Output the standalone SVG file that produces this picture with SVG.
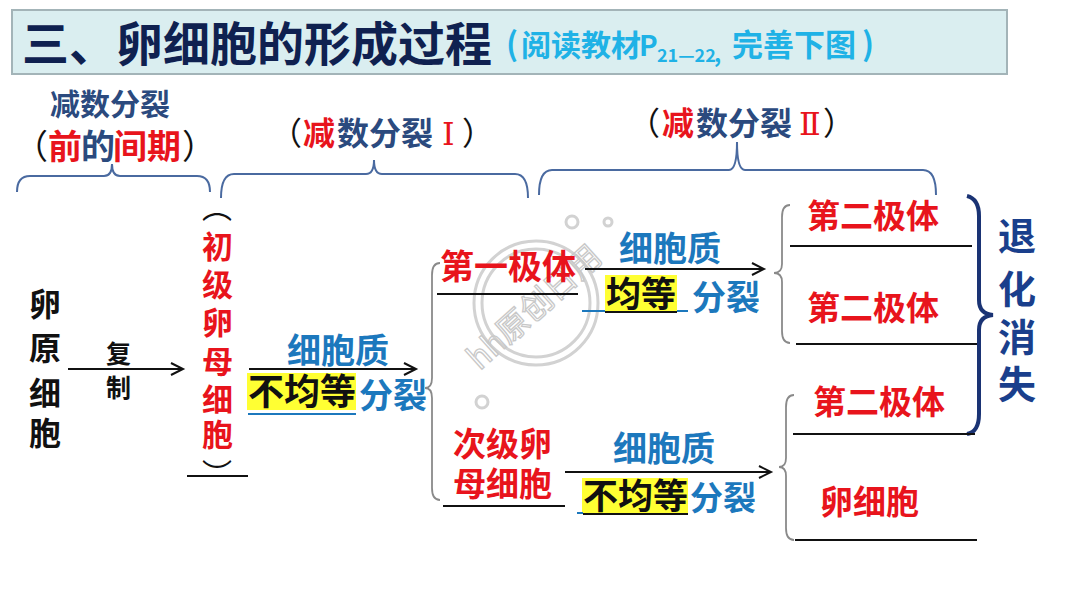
<svg xmlns="http://www.w3.org/2000/svg" width="1080" height="608" viewBox="0 0 1080 608">
<defs>
<style>
text{font-family:"Noto Sans CJK SC","Noto Sans",sans-serif;font-weight:700}
.red{fill:#e8141c}
.navy{fill:#2b4a7e}
.blue{fill:#1c78bd}
.blk{fill:#111}
.roman{font-family:"DejaVu Serif","Liberation Serif",serif;font-weight:400;fill:#e8141c}
.par{font-weight:400;fill:#111}
.ln{stroke:#111;stroke-width:2;fill:none}
.bl{stroke:#1c78bd;stroke-width:2;fill:none}
.brace{stroke:#4a6aa0;stroke-width:2;fill:none}
.gbrace{stroke:#8a8a8a;stroke-width:1.8;fill:none}
.hl{fill:#ffff33}
.wm{stroke:#d2d2d2;fill:none;stroke-width:3}
</style>
<marker id="arr" markerUnits="userSpaceOnUse" markerWidth="16" markerHeight="16" refX="13" refY="7" orient="auto">
<path d="M1,1 L13,7 L1,13" stroke="#111" stroke-width="2" fill="none"/>
</marker>
</defs>
<rect width="1080" height="608" fill="#fff"/>

<g id="watermark">
<circle class="wm" cx="536" cy="303" r="62"/>
<circle class="wm" cx="536" cy="303" r="54"/>
<circle class="wm" cx="572" cy="222" r="6" stroke-width="2"/>
<circle class="wm" cx="608" cy="222" r="4" stroke-width="2"/>
<circle class="wm" cx="482" cy="402" r="6" stroke-width="2"/>
<text x="535" y="318" transform="rotate(-42 535 308)" text-anchor="middle" font-size="32" style="font-weight:400;fill:none;stroke:#c8c8c8;stroke-width:1.3">hh原创日用</text>
</g>

<g id="title">
<rect x="12" y="10" width="995" height="64" fill="#daeef0" stroke="#a3b4b8" stroke-width="2"/>
<text x="22" y="61" font-size="47" fill="#0f2150">三、卵细胞的形成过程</text>
<text y="56" font-size="30" fill="#1fb2e6"><tspan x="506" font-size="32">(</tspan><tspan x="521">阅读教材</tspan><tspan x="639" font-size="28">P</tspan><tspan x="657" y="62" font-size="18">21—22</tspan><tspan x="714" y="62" font-size="22">,</tspan><tspan x="732" y="56" font-size="31">完善下图</tspan><tspan x="862" font-size="32">)</tspan></text>
</g>

<g id="phase-interphase">
<text x="50" y="115" font-size="30" class="navy">减数分裂</text>
<text y="159" font-size="34"><tspan x="14" class="blk" style="font-weight:400">（</tspan><tspan x="48" class="red">前</tspan><tspan x="81" class="navy">的</tspan><tspan x="113" class="red">间期</tspan><tspan x="182" class="blk" style="font-weight:400">）</tspan></text>
</g>
<g id="phase-meiosis1">
<text y="145" font-size="32"><tspan x="270" class="blk" style="font-weight:400">（</tspan><tspan x="303" class="red">减</tspan><tspan x="337" class="navy">数分裂</tspan><tspan x="442" class="roman">Ⅰ</tspan><tspan x="462" class="blk" style="font-weight:400">）</tspan></text>
</g>
<g id="phase-meiosis2">
<text y="135" font-size="32"><tspan x="628" class="blk" style="font-weight:400">（</tspan><tspan x="662" class="red">减</tspan><tspan x="696" class="navy">数分裂</tspan><tspan x="799" class="roman">Ⅱ</tspan><tspan x="823" class="blk" style="font-weight:400">）</tspan></text>
</g>

<g id="braces">
<path class="brace" d="M17,192 Q17,176 30,176 L104,176 Q112,176 112,164 Q112,176 120,176 L197,176 Q210,176 210,192"/>
<path class="brace" d="M221,198 Q221,174 234,174 L366,174 Q374,174 374,160 Q374,174 382,174 L515,174 Q528,174 528,198"/>
<path class="brace" d="M539,195 Q539,170 552,170 L729,170 Q737,170 737,142 Q737,170 745,170 L923,170 Q936,170 936,195"/>
<path class="gbrace" d="M440,263 Q432,263 432,275 L432,378 Q432,388 425,388 Q432,388 432,398 L432,488 Q432,500 440,500"/>
<path class="gbrace" d="M790,205 Q782,205 782,217 L782,264 Q782,273 774,273 Q782,273 782,282 L782,331 Q782,343 790,343"/>
<path class="gbrace" d="M794,395 Q786,395 786,407 L786,458 Q786,467 779,467 Q786,467 786,476 L786,528 Q786,540 794,540"/>
<path d="M967,196 Q979,199 979,216 L979,300 Q979,314 993,315 Q979,316 979,330 L979,414 Q979,432 967,434" stroke="#1a3374" stroke-width="4" fill="none"/>
</g>

<g id="connectors">
<line class="ln" x1="68" y1="369" x2="183" y2="369" marker-end="url(#arr)"/>
<line class="ln" x1="249" y1="369" x2="416" y2="369" marker-end="url(#arr)"/>
<line class="ln" x1="585" y1="269" x2="764" y2="269" marker-end="url(#arr)"/>
<line class="ln" x1="565" y1="472" x2="771" y2="472" marker-end="url(#arr)"/>
</g>

<g id="node-oogonium">
<text font-size="32" class="blk" x="29"><tspan x="29" y="316">卵</tspan><tspan x="29" y="360">原</tspan><tspan x="29" y="405">细</tspan><tspan x="29" y="445">胞</tspan></text>
<text x="106" y="363" font-size="25" class="blk">复</text>
<text x="106" y="397" font-size="25" class="blk">制</text>
</g>

<g id="node-primary-oocyte">
<text class="par" x="217" y="218" font-size="30" text-anchor="middle">︵</text>
<text font-size="31" class="red"><tspan x="202" y="258">初</tspan><tspan x="202" y="296">级</tspan><tspan x="202" y="334">卵</tspan><tspan x="202" y="373">母</tspan><tspan x="202" y="411">细</tspan><tspan x="202" y="446">胞</tspan></text>
<text class="par" x="217" y="485" font-size="30" text-anchor="middle">︶</text>
<line class="ln" x1="187" y1="476" x2="248" y2="476"/>
</g>

<g id="label-meiosis1-division">
<text x="287" y="363" font-size="34" class="blue">细胞质</text>
<rect class="hl" x="247" y="373" width="109" height="37"/>
<text x="248" y="405" font-size="36" class="blk">不均等</text>
<line class="bl" x1="248" y1="414" x2="356" y2="414"/>
<text x="359" y="408" font-size="34" class="blue">分裂</text>
</g>

<g id="node-first-polar-body">
<text x="440" y="279" font-size="34" class="red">第一极体</text>
<line class="ln" x1="437" y1="294" x2="578" y2="294"/>
<text x="619" y="261" font-size="34" class="blue">细胞质</text>
<rect class="hl" x="605" y="275" width="72" height="37"/>
<text x="606" y="307" font-size="35" class="blk">均等</text>
<line class="bl" x1="582" y1="311" x2="605" y2="311"/>
<line class="ln" x1="605" y1="312" x2="677" y2="312"/>
<line class="bl" x1="677" y1="311" x2="688" y2="311"/>
<text x="692" y="310" font-size="34" class="blue">分裂</text>
</g>

<g id="node-secondary-oocyte">
<text x="453" y="456" font-size="33" class="red">次级卵</text>
<text x="453" y="496" font-size="33" class="red">母细胞</text>
<line class="ln" x1="443" y1="506" x2="565" y2="506"/>
<text x="613" y="461" font-size="34" class="blue">细胞质</text>
<rect class="hl" x="582" y="478" width="106" height="35"/>
<text x="583" y="509" font-size="35" class="blk">不均等</text>
<line class="bl" x1="577" y1="513" x2="583" y2="513"/>
<line class="ln" x1="583" y1="514" x2="688" y2="514"/>
<text x="690" y="510" font-size="33" class="blue">分裂</text>
</g>

<g id="node-second-polar-body-1">
<text x="807" y="228" font-size="33" class="red">第二极体</text>
<line class="ln" x1="790" y1="246" x2="972" y2="246"/>
</g>
<g id="node-second-polar-body-2">
<text x="807" y="320" font-size="33" class="red">第二极体</text>
<line class="ln" x1="796" y1="344" x2="977" y2="344"/>
</g>
<g id="node-second-polar-body-3">
<text x="813" y="414" font-size="33" class="red">第二极体</text>
<line class="ln" x1="793" y1="434" x2="975" y2="434"/>
</g>
<g id="node-egg">
<text x="820" y="514" font-size="33" class="red">卵细胞</text>
<line class="ln" x1="795" y1="540" x2="977" y2="540"/>
</g>

<g id="label-degenerate">
<text font-size="38" fill="#1a3f8c"><tspan x="998" y="250">退</tspan><tspan x="998" y="303">化</tspan><tspan x="998" y="351">消</tspan><tspan x="998" y="398">失</tspan></text>
</g>
</svg>
